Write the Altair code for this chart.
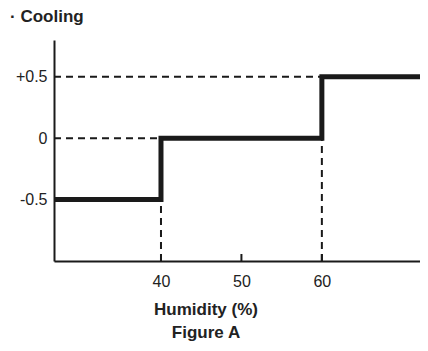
import altair as alt
import pandas as pd

# Data
x_min, x_max = 26.7, 72.2
y_min, y_max = -1.0, 0.8
step_x = [26.7, 40, 60, 72.2]
step_y = [-0.5, 0, 0.5, 0.5]
h_ref_y = [0.5, 0]
h_ref_x2 = [60, 40]
v_ref_x = [40, 60]
v_ref_y2 = [-0.5, 0]
x_ticks = [40, 50, 60]
y_ticks = [-0.5, 0, 0.5]
y_tick_labels = ["-0.5", "0", "+0.5"]

W, H = 366, 221
FONT = "Liberation Sans"
INK = "#1a1a1a"

xs = alt.Scale(domain=[x_min, x_max], nice=False, zero=False)
ys = alt.Scale(domain=[y_min, y_max], nice=False, zero=False)

step_df = pd.DataFrame({"x": step_x, "y": step_y})
href_df = pd.DataFrame({"x": [x_min] * len(h_ref_y), "x2": h_ref_x2, "y": h_ref_y})
vref_df = pd.DataFrame({"x": v_ref_x, "y": [y_min] * len(v_ref_x), "y2": v_ref_y2})
tick_df = pd.DataFrame({"x": x_ticks})

label_map = "{" + ", ".join(f"'{v}': '{l}'" for v, l in zip(y_ticks, y_tick_labels)) + "}"

base_x_axis = alt.Axis(values=x_ticks, ticks=False, grid=False, title=None,
                       labelFont=FONT, labelFontSize=16, labelColor="#222",
                       labelPadding=12, domainColor=INK, domainWidth=2)
base_y_axis = alt.Axis(values=y_ticks, ticks=False, grid=False, title=None,
                       labelFont=FONT, labelFontSize=16, labelColor="#222",
                       labelPadding=7, domainColor=INK, domainWidth=2,
                       labelExpr=f"{label_map}[toString(datum.value)]")

step = alt.Chart(step_df).mark_line(interpolate="step-after", color=INK,
                                    strokeWidth=5, clip=True).encode(
    x=alt.X("x:Q", scale=xs, axis=base_x_axis),
    y=alt.Y("y:Q", scale=ys, axis=base_y_axis),
)

href = alt.Chart(href_df).mark_rule(color=INK, strokeWidth=2, strokeDash=[7, 5]).encode(
    x=alt.X("x:Q", scale=xs), x2="x2:Q", y=alt.Y("y:Q", scale=ys)
)
vref = alt.Chart(vref_df).mark_rule(color=INK, strokeWidth=2, strokeDash=[7, 5]).encode(
    x=alt.X("x:Q", scale=xs), y=alt.Y("y:Q", scale=ys), y2="y2:Q"
)
ticks = alt.Chart(tick_df).mark_rule(color=INK, strokeWidth=2).encode(
    x=alt.X("x:Q", scale=xs), y=alt.value(H), y2=alt.value(H - 7)
)

def label(text, x, y, size=17):
    return alt.Chart(pd.DataFrame({"t": [text]})).mark_text(
        font=FONT, fontSize=size, fontWeight="bold", color="#222",
        align="center", baseline="middle").encode(
        text="t:N", x=alt.value(x), y=alt.value(y))

title_txt = alt.Chart(pd.DataFrame({"t": ["\u00b7 Cooling"]})).mark_text(
    font=FONT, fontSize=17, fontWeight="bold", color="#222",
    align="left", baseline="middle").encode(
    text="t:N", x=alt.value(-44), y=alt.value(-23))

chart = alt.layer(
    href, vref, ticks, step,
    title_txt,
    label("Humidity (%)", 152, 270),
    label("Figure A", 152, 293),
).properties(
    width=W, height=H,
    autosize=alt.AutoSizeParams(type="none"),
    padding={"left": 46, "top": 32, "right": 0, "bottom": 82},
).configure_view(stroke=None)

chart.save("out.html", embed_options={"renderer": "svg", "actions": False})
